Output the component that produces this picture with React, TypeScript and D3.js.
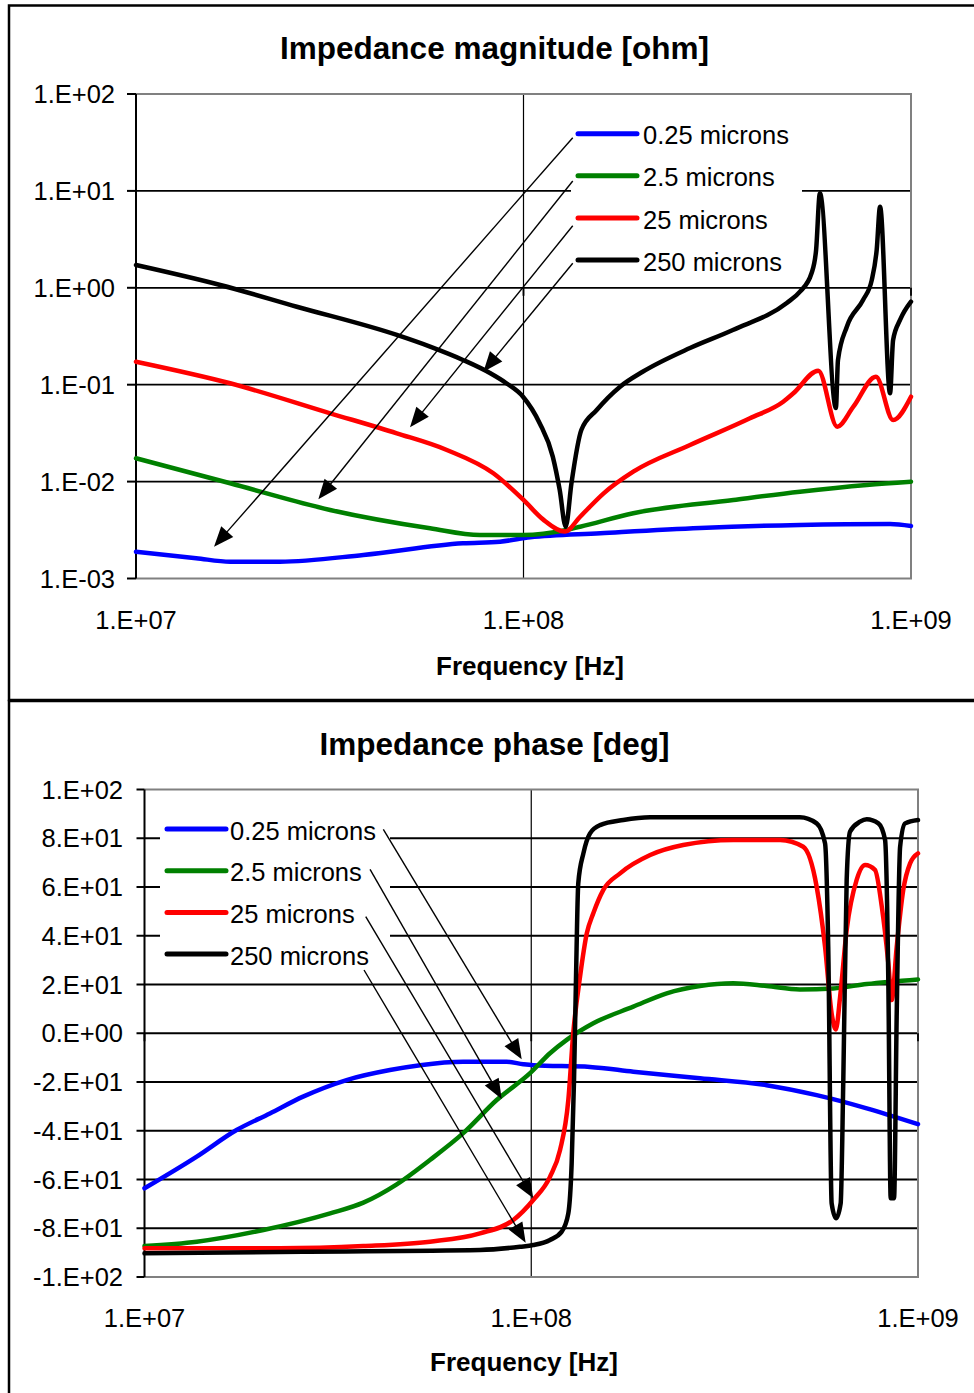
import React from 'react';
import * as d3 from 'd3';

const FONT = '"Liberation Sans", Arial, Helvetica, sans-serif';

const seriesNames = ['0.25 microns', '2.5 microns', '25 microns', '250 microns'];
const seriesColors = ['#0000FF', '#008000', '#FF0000', '#000000'];

// ---------- Impedance magnitude [ohm] ----------
const magFreq025 = [1.0e7, 1.43e7, 1.75e7, 2.35e7, 3.86e7, 6.98e7, 8.7e7, 1.04e8, 1.58e8, 2.855e8, 5.17e8, 8.83e8, 1.0e9];
const magVal025 = [0.00189, 0.00162, 0.00149, 0.00149, 0.00175, 0.00231, 0.0024, 0.00266, 0.00293, 0.00332, 0.00357, 0.00365, 0.00348];

const magFreq25 = [1.0e7, 1.75e7, 3.17e7, 5.74e7, 7.72e7, 1.0e8, 1.29e8, 1.4e8, 1.92e8, 3.48e8, 5.17e8, 7.69e8, 1.0e9];
const magVal25 = [0.0174, 0.00961, 0.0051, 0.0033, 0.00281, 0.00281, 0.00317, 0.00342, 0.00471, 0.00646, 0.00787, 0.00923, 0.00998];

const magFreq250 = [1.0e7, 1.75e7, 3.17e7, 4.71e7, 6.34e7, 8.36e7, 1.0e8, 1.125e8, 1.28e8, 1.4e8, 1.61e8, 1.92e8, 2.69e8, 3.84e8, 4.68e8, 4.97e8, 5.765e8, 6.45e8, 7.1e8, 8.12e8, 8.99e8, 1.0e9];
const magVal250 = [0.1727, 0.1034, 0.0507, 0.0315, 0.0212, 0.01218, 0.00646, 0.00405, 0.00305, 0.00434, 0.00757, 0.01266, 0.02385, 0.045, 0.0668, 0.0815, 0.1395, 0.0369, 0.0593, 0.121, 0.0432, 0.0752];

const magFreq2500 = [1.0e7, 1.65e7, 2.6e7, 4.71e7, 5.74e7, 6.98e7, 8.19e7, 9.05e7, 9.97e7, 1.1e8, 1.19e8, 1.24e8, 1.285e8, 1.33e8, 1.41e8, 1.545e8, 1.775e8, 2.03e8, 2.69e8, 3.47e8, 4.78e8, 5.17e8, 5.54e8, 5.69e8, 5.82e8, 6.4e8, 6.48e8, 6.83e8, 7.52e8, 7.92e8, 8.155e8, 8.32e8, 8.83e8, 8.99e8, 9.37e8, 1.0e9];
const magVal2500 = [1.72, 1.07, 0.638, 0.326, 0.247, 0.18, 0.132, 0.103, 0.0752, 0.0403, 0.0181, 0.0082, 0.00342, 0.00967, 0.0341, 0.0548, 0.0954, 0.136, 0.239, 0.367, 0.697, 0.912, 1.42, 2.46, 9.45, 0.0575, 0.18, 0.397, 0.748, 1.2, 2.46, 6.87, 0.0815, 0.289, 0.4655, 0.719];

const magTickValues = [1e2, 1e1, 1e0, 1e-1, 1e-2, 1e-3];
const magTickLabels = ['1.E+02', '1.E+01', '1.E+00', '1.E-01', '1.E-02', '1.E-03'];

// callout arrows (legend -> curve), in data units
const magArrowFrom = [[1.34e8, 35.4], [1.34e8, 12.65], [1.34e8, 4.37], [1.34e8, 1.79]];
const magArrowTo = [[1.59e7, 0.00213], [2.955e7, 0.00656], [5.095e7, 0.0363], [7.88e7, 0.136]];

// ---------- Impedance phase [deg] ----------
const phFreq025 = [1.0e7, 1.365e7, 1.73e7, 2.11e7, 2.57e7, 3.33e7, 4.31e7, 5.16e7, 6.67e7, 8.64e7, 9.54e7, 1.012e8, 1.419e8, 1.836e8, 2.73e8, 4.06e8, 5.47e8, 7.37e8, 1.0e9];
const phVal025 = [-63.6, -50.6, -39.7, -32.9, -26.0, -19.2, -15.1, -13.1, -11.7, -11.7, -12.7, -13.1, -13.8, -15.8, -18.5, -21.3, -25.4, -30.8, -37.3];

const phFreq25 = [1.0e7, 1.365e7, 2.03e7, 3.02e7, 3.68e7, 4.49e7, 5.47e7, 6.67e7, 8.14e7, 9.93e7, 1.118e8, 1.235e8, 1.447e8, 1.836e8, 2.24e8, 2.73e8, 3.33e8, 4.06e8, 4.95e8, 6.04e8, 7.37e8, 1.0e9];
const phVal25 = [-87.3, -85.5, -80.7, -73.9, -69.5, -62.0, -52.0, -41.0, -27.4, -16.4, -8.2, -2.7, 4.1, 10.9, 16.4, 19.4, 20.5, 19.4, 18.0, 18.4, 20.2, 22.1];

const phFreq250 = [1.0e7, 2.24e7, 3.68e7, 5.47e7, 7.37e7, 8.99e7, 1.012e8, 1.118e8, 1.187e8, 1.247e8, 1.284e8, 1.337e8, 1.392e8, 1.447e8, 1.536e8, 1.697e8, 2.03e8, 2.47e8, 3.33e8, 4.4e8, 5.05e8, 5.47e8, 5.75e8, 5.98e8, 6.13e8, 6.29e8, 6.54e8, 6.94e8, 7.3e8, 7.74e8, 8.06e8, 8.38e8, 8.55e8, 8.81e8, 9.16e8, 9.54e8, 1.0e9];
const phVal250 = [-88.2, -88.2, -87.3, -85.5, -82.1, -76.6, -68.4, -58.9, -47.9, -27.4, 0.0, 23.2, 41.0, 49.2, 58.8, 65.6, 73.1, 77.2, 79.3, 79.3, 76.5, 60.1, 35.5, 8.1, 1.5, 15.0, 42.4, 62.9, 69.0, 67.0, 52.0, 28.7, 13.6, 35.5, 58.8, 69.7, 73.8];

const phFreq2500 = [1.0e7, 2.57e7, 7.37e7, 9.35e7, 1.012e8, 1.118e8, 1.199e8, 1.247e8, 1.272e8, 1.29e8, 1.305e8, 1.323e8, 1.364e8, 1.419e8, 1.506e8, 1.73e8, 2.03e8, 4.95e8, 5.47e8, 5.75e8, 5.86e8, 5.98e8, 6.14e8, 6.31e8, 6.41e8, 6.54e8, 6.67e8, 7.08e8, 7.37e8, 7.9e8, 8.22e8, 8.38e8, 8.5e8, 8.67e8, 8.81e8, 8.99e8, 9.26e8, 1.0e9];
const phVal2500 = [-90.3, -89.6, -88.9, -87.6, -86.9, -84.8, -81.4, -73.9, -53.4, -19.2, 21.8, 61.5, 73.8, 82.0, 85.4, 87.5, 88.6, 88.6, 86.1, 77.9, 35.5, -69.8, -75.9, -69.8, -19.2, 62.9, 82.7, 86.8, 87.8, 86.1, 79.3, 21.8, -67.7, -67.7, 8.1, 76.5, 86.1, 87.5];

const phTickValues = [100, 80, 60, 40, 20, 0, -20, -40, -60, -80, -100];
const phTickLabels = ['1.E+02', '8.E+01', '6.E+01', '4.E+01', '2.E+01', '0.E+00', '-2.E+01', '-4.E+01', '-6.E+01', '-8.E+01', '-1.E+02'];

const phArrowFrom = [[4.145e7, 83.67], [3.83e7, 67.26], [3.733e7, 47.81], [3.695e7, 25.95]];
const phArrowTo = [[9.448e7, -10.69], [8.386e7, -26.97], [1.012e8, -67.71], [9.674e7, -85.93]];

const freqTickValues = [1e7, 1e8, 1e9];
const freqTickLabels = ['1.E+07', '1.E+08', '1.E+09'];

const zip = (a: number[], b: number[]) => a.map((v, i) => [v, b[i]] as [number, number]);
const magSeries = [zip(magFreq025, magVal025), zip(magFreq25, magVal25), zip(magFreq250, magVal250), zip(magFreq2500, magVal2500)];
const phSeries = [zip(phFreq025, phVal025), zip(phFreq25, phVal25), zip(phFreq250, phVal250), zip(phFreq2500, phVal2500)];

function Arrow({ x1, y1, x2, y2 }: { x1: number; y1: number; x2: number; y2: number }) {
  const dx = x2 - x1, dy = y2 - y1;
  const L = Math.hypot(dx, dy);
  const ux = dx / L, uy = dy / L;
  const hl = 20, hw = 8;
  const bx = x2 - ux * hl, by = y2 - uy * hl;
  const px = -uy, py = ux;
  return (
    <g>
      <line x1={x1} y1={y1} x2={bx + ux * 2} y2={by + uy * 2} stroke="#000" strokeWidth={1.4} />
      <polygon points={`${x2},${y2} ${bx + px * hw},${by + py * hw} ${bx - px * hw},${by - py * hw}`} fill="#000" />
    </g>
  );
}

export default function App() {
  // top plot
  const T = { left: 136, right: 911, top: 94, bottom: 578.5 };
  const xT = d3.scaleLog().domain([1e7, 1e9]).range([T.left, T.right]);
  const yT = d3.scaleLog().domain([1e-3, 1e2]).range([T.bottom, T.top]);
  // bottom plot
  const B = { left: 144.5, right: 918, top: 789.5, bottom: 1277 };
  const xB = d3.scaleLog().domain([1e7, 1e9]).range([B.left, B.right]);
  const yB = d3.scaleLinear().domain([-100, 100]).range([B.bottom, B.top]);

  const lineT = d3.line<[number, number]>().x(d => xT(d[0])).y(d => yT(d[1])).curve(d3.curveMonotoneX);
  const lineB = d3.line<[number, number]>().x(d => xB(d[0])).y(d => yB(d[1])).curve(d3.curveMonotoneX);

  const tickFs = 25.5;
  const gray = '#808080';

  // legend boxes
  const legT = { x: 571, y: 114, w: 231, h: 167, lx1: 578, lx2: 637, tx: 643, y0: 133.7, dy: 42.1 };
  const legB = { x: 160, y: 808, w: 230, h: 172, lx1: 167, lx2: 226, tx: 230, y0: 829, dy: 41.7 };

  return (
    <svg width={974} height={1393} style={{ position: 'absolute', left: 0, top: 0, background: '#fff' }} fontFamily={FONT}>
      <rect x={0} y={0} width={974} height={1393} fill="#fff" />
      {/* frames */}
      <rect x={9} y={5.5} width={1000} height={694.5} fill="none" stroke="#000" strokeWidth={2.5} />
      <rect x={9} y={701} width={1000} height={720} fill="none" stroke="#000" strokeWidth={2.5} />

      {/* ================= TOP CHART ================= */}
      <text x={494.5} y={59} fontSize={31.5} fontWeight="bold" textAnchor="middle">Impedance magnitude [ohm]</text>
      {magTickValues.slice(1, -1).map((v, i) => (
        <line key={'tg' + i} x1={T.left} x2={T.right} y1={yT(v)} y2={yT(v)} stroke="#000" strokeWidth={1.8} />
      ))}
      <line x1={xT(1e8)} x2={xT(1e8)} y1={T.top} y2={T.bottom} stroke="#000" strokeWidth={1.2} />
      <polyline points={`${T.left},${T.top} ${T.right},${T.top} ${T.right},${T.bottom} ${T.left},${T.bottom}`} fill="none" stroke={gray} strokeWidth={2} />
      <line x1={T.left} x2={T.left} y1={T.top} y2={T.bottom} stroke="#000" strokeWidth={2} />
      {magTickValues.map((v, i) => (
        <g key={'tt' + i}>
          <line x1={T.left - 9} x2={T.left} y1={yT(v)} y2={yT(v)} stroke="#000" strokeWidth={2} />
          <text x={115} y={yT(v) + 9.2} fontSize={tickFs} textAnchor="end">{magTickLabels[i]}</text>
        </g>
      ))}
      {freqTickValues.map((v, i) => (
        <g key={'tx' + i}>
          <line x1={xT(v)} x2={xT(v)} y1={yT(1)} y2={yT(1) + 8} stroke="#000" strokeWidth={1.8} />
          <text x={xT(v)} y={629} fontSize={tickFs} textAnchor="middle">{freqTickLabels[i]}</text>
        </g>
      ))}
      <text x={530} y={675} fontSize={26} fontWeight="bold" textAnchor="middle">Frequency [Hz]</text>
      {magSeries.map((s, i) => (
        <path key={'ts' + i} d={lineT(s) || ''} fill="none" stroke={seriesColors[i]} strokeWidth={4.5} strokeLinejoin="round" strokeLinecap="round" />
      ))}
      <rect x={legT.x} y={legT.y} width={legT.w} height={legT.h} fill="#fff" />
      {seriesNames.map((n, i) => (
        <g key={'tl' + i}>
          <line x1={legT.lx1} x2={legT.lx2} y1={legT.y0 + i * legT.dy} y2={legT.y0 + i * legT.dy} stroke={seriesColors[i]} strokeWidth={5} strokeLinecap="round" />
          <text x={legT.tx} y={legT.y0 + i * legT.dy + 10.6} fontSize={tickFs}>{n}</text>
        </g>
      ))}
      {magArrowFrom.map((p, i) => (
        <Arrow key={'ta' + i} x1={xT(p[0])} y1={yT(p[1])} x2={xT(magArrowTo[i][0])} y2={yT(magArrowTo[i][1])} />
      ))}

      {/* ================= BOTTOM CHART ================= */}
      <text x={494.5} y={755} fontSize={31.5} fontWeight="bold" textAnchor="middle">Impedance phase [deg]</text>
      {phTickValues.slice(1, -1).map((v, i) => (
        <line key={'bg' + i} x1={B.left} x2={B.right} y1={yB(v)} y2={yB(v)} stroke="#000" strokeWidth={1.8} />
      ))}
      <line x1={xB(1e8)} x2={xB(1e8)} y1={B.top} y2={B.bottom} stroke="#000" strokeWidth={1.2} />
      <polyline points={`${B.left},${B.top} ${B.right},${B.top} ${B.right},${B.bottom} ${B.left},${B.bottom}`} fill="none" stroke={gray} strokeWidth={2} />
      <line x1={B.left} x2={B.left} y1={B.top} y2={B.bottom} stroke="#000" strokeWidth={2} />
      {phTickValues.map((v, i) => (
        <g key={'bt' + i}>
          <line x1={B.left - 8} x2={B.left} y1={yB(v)} y2={yB(v)} stroke="#000" strokeWidth={2} />
          <text x={123} y={yB(v) + 9.2} fontSize={tickFs} textAnchor="end">{phTickLabels[i]}</text>
        </g>
      ))}
      {freqTickValues.map((v, i) => (
        <g key={'bx' + i}>
          <line x1={xB(v)} x2={xB(v)} y1={yB(0)} y2={yB(0) + 8} stroke="#000" strokeWidth={1.8} />
          <text x={xB(v)} y={1327} fontSize={tickFs} textAnchor="middle">{freqTickLabels[i]}</text>
        </g>
      ))}
      <text x={524} y={1371} fontSize={26} fontWeight="bold" textAnchor="middle">Frequency [Hz]</text>
      {phSeries.map((s, i) => (
        <path key={'bs' + i} d={lineB(s) || ''} fill="none" stroke={seriesColors[i]} strokeWidth={4.5} strokeLinejoin="round" strokeLinecap="round" />
      ))}
      <rect x={legB.x} y={legB.y} width={legB.w} height={legB.h} fill="#fff" />
      {seriesNames.map((n, i) => (
        <g key={'bl' + i}>
          <line x1={legB.lx1} x2={legB.lx2} y1={legB.y0 + i * legB.dy} y2={legB.y0 + i * legB.dy} stroke={seriesColors[i]} strokeWidth={5} strokeLinecap="round" />
          <text x={legB.tx} y={legB.y0 + i * legB.dy + 10.6} fontSize={tickFs}>{n}</text>
        </g>
      ))}
      {phArrowFrom.map((p, i) => (
        <Arrow key={'ba' + i} x1={xB(p[0])} y1={yB(p[1])} x2={xB(phArrowTo[i][0])} y2={yB(phArrowTo[i][1])} />
      ))}
    </svg>
  );
}
